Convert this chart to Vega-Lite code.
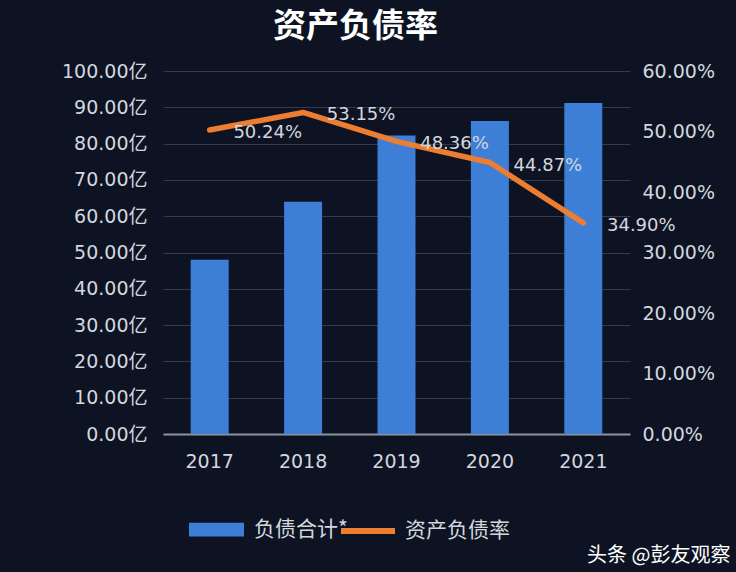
{
  "$schema": "https://vega.github.io/schema/vega-lite/v6.json",
  "width": 467,
  "height": 363,
  "autosize": {"type": "none"},
  "padding": {"left": 163, "top": 71, "right": 106, "bottom": 138},
  "background": "#0d1323",
  "title": {
    "text": "资产负债率",
    "font": "Noto Sans CJK SC",
    "fontSize": 33,
    "fontWeight": "bold",
    "color": "#ffffff",
    "anchor": "middle",
    "dx": -41,
    "offset": 18
  },
  "config": {
    "view": {"stroke": null},
    "font": "DejaVu Sans, Noto Sans CJK SC",
    "axis": {
      "labelFont": "DejaVu Sans, Noto Sans CJK SC",
      "labelColor": "#d3d7de",
      "labelFontSize": 19,
      "ticks": false,
      "domain": false,
      "gridColor": "#343b4d",
      "gridWidth": 1
    },
    "legend": {
      "labelFont": "Noto Sans CJK SC",
      "labelColor": "#d3d7de",
      "labelFontSize": 21,
      "title": null
    }
  },
  "data": {
    "values": [
      {"year": "2017", "debt": 48.0, "ratio": 0.5024},
      {"year": "2018", "debt": 64.0, "ratio": 0.5315},
      {"year": "2019", "debt": 82.2, "ratio": 0.4836},
      {"year": "2020", "debt": 86.2, "ratio": 0.4487},
      {"year": "2021", "debt": 91.2, "ratio": 0.349}
    ]
  },
  "encoding": {
    "x": {
      "field": "year",
      "type": "ordinal",
      "scale": {"paddingInner": 0, "paddingOuter": 0},
      "axis": {
        "labelAngle": 0,
        "labelPadding": 18,
        "domain": true,
        "domainColor": "#8c93a0",
        "domainWidth": 2,
        "title": "头条 @彭友观察",
        "titleFont": "Noto Sans CJK SC",
        "titleFontSize": 20,
        "titleFontWeight": "normal",
        "titleColor": "#ffffff",
        "titleAlign": "right",
        "titleBaseline": "alphabetic",
        "titleAnchor": null,
        "titleX": 567,
        "titleY": 127
      }
    }
  },
  "layer": [
    {
      "mark": {"type": "bar", "width": 38},
      "encoding": {
        "y": {
          "field": "debt",
          "type": "quantitative",
          "scale": {"domain": [0, 100], "nice": false},
          "axis": {
            "values": [0, 10, 20, 30, 40, 50, 60, 70, 80, 90, 100],
            "labelExpr": "format(datum.value, '.2f') + '亿'",
            "labelPadding": 16,
            "title": null,
            "grid": true
          }
        },
        "color": {
          "datum": "负债合计*",
          "scale": {"range": ["#3d7fd6"]},
          "legend": {
            "orient": "none",
            "legendX": 25,
            "legendY": 430,
            "symbolType": "M-1,-0.25H1V0.25H-1Z",
            "symbolSize": 3025,
            "symbolOpacity": 1,
            "labelOffset": 9
          }
        }
      }
    },
    {
      "layer": [
        {
          "mark": {"type": "line", "strokeWidth": 5.5, "strokeCap": "round", "strokeJoin": "round"},
          "encoding": {
            "y": {
              "field": "ratio",
              "type": "quantitative",
              "scale": {"domain": [0, 0.6], "nice": false},
              "axis": {
                "orient": "right",
                "values": [0, 0.1, 0.2, 0.3, 0.4, 0.5, 0.6],
                "format": ".2%",
                "labelPadding": 12,
                "title": null,
                "grid": false
              }
            },
            "stroke": {
              "datum": "资产负债率",
              "scale": {"range": ["#ed7d31"]},
              "legend": {
                "orient": "none",
                "legendX": 175,
                "legendY": 430,
                "symbolType": "stroke",
                "symbolSize": 2916,
                "symbolStrokeWidth": 6,
                "labelOffset": 7
              }
            }
          }
        },
        {
          "mark": {"type": "text", "dx": 58, "dy": 3, "fontSize": 18, "color": "#d3d7de", "font": "DejaVu Sans"},
          "encoding": {
            "y": {"field": "ratio", "type": "quantitative"},
            "text": {"field": "ratio", "type": "quantitative", "format": ".2%"}
          }
        }
      ]
    }
  ],
  "resolve": {"scale": {"y": "independent"}}
}
